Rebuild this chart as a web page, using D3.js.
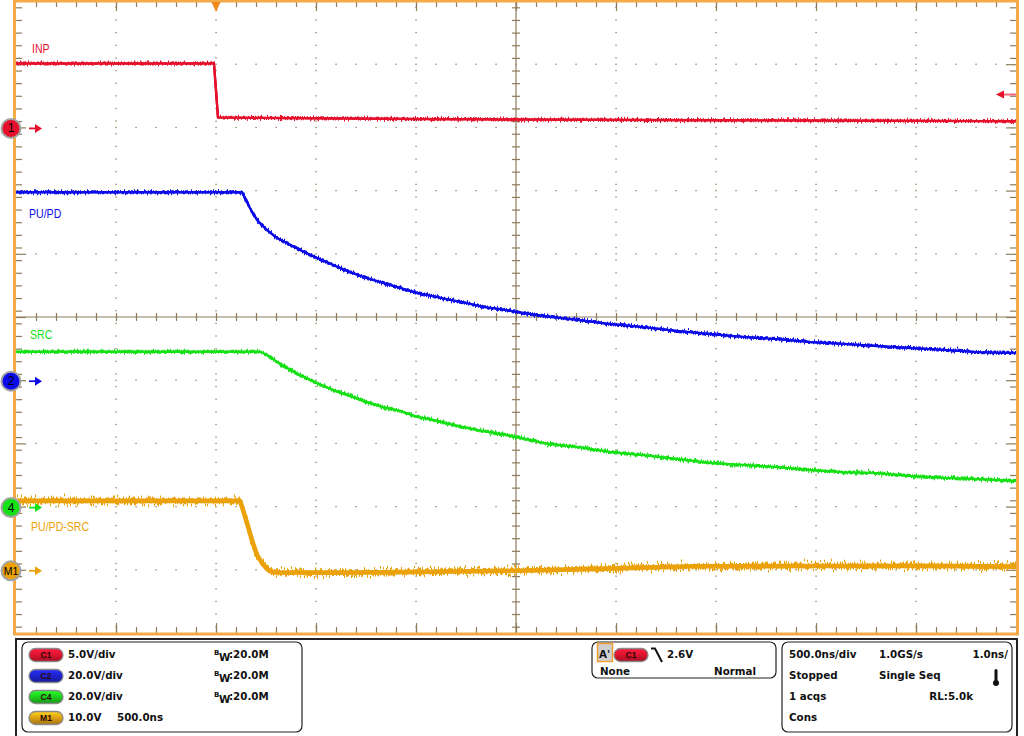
<!DOCTYPE html>
<html>
<head>
<meta charset="utf-8">
<script src="https://cdn.jsdelivr.net/npm/d3@7/dist/d3.min.js"></script>
<style>
  html, body { margin: 0; padding: 0; background: #fff; }
  svg { display: block; }
</style>
</head>
<body>
<div id="scope"></div>
<script>
// ── Timebase: 10 div × 500 ns, trigger 2 div from the left ──
const TIME_DOMAIN_NS = [-1000, 4000];
const DIV_DOMAIN = [-5, 5];

// ── Channels ──
const channelIds = ['1', '2', '4', 'M1'];
const channelNames = ['INP', 'PU/PD', 'SRC', 'PU/PD-SRC'];
const voltsPerDiv = [5, 20, 20, 10];
const groundDiv = [3, -1, -3, -4];

// ── Traces: [t (ns), V] ──
const inpTrace = [
  [-1000, 5.05], [-600, 5.05], [-200, 5.06], [-10, 5.05], [-4, 3.8], [10, 0.78],
  [300, 0.74], [1000, 0.66], [1500, 0.62], [2500, 0.57], [3500, 0.52], [4000, 0.49]
];
const puPdTrace = [
  [-1000, 59.5], [130, 59.5], [145, 57.7], [170, 54.5], [205, 50.7], [255, 47.5],
  [305, 45.0], [355, 43.4], [420, 41.2], [505, 38.7], [585, 36.5], [670, 34.2],
  [755, 32.3], [835, 30.8], [920, 29.2], [1005, 27.6], [1085, 26.6], [1170, 25.4],
  [1255, 24.4], [1335, 23.2], [1420, 22.5], [1505, 21.6], [1635, 20.3], [1805, 19.1],
  [1970, 17.8], [2135, 16.8], [2305, 15.6], [2470, 14.6], [2635, 13.7], [2805, 13.0],
  [2970, 12.1], [3135, 11.5], [3305, 10.8], [3470, 10.2], [3635, 9.6], [3805, 8.9],
  [4000, 8.6]
];
const srcTrace = [
  [-1000, 49.0], [220, 49.0], [255, 48.0], [305, 45.8], [355, 43.9], [420, 41.6],
  [505, 39.1], [585, 36.9], [670, 35.0], [755, 33.1], [835, 31.5], [920, 30.3],
  [1005, 28.4], [1085, 27.4], [1170, 26.1], [1255, 24.9], [1335, 23.9], [1420, 23.0],
  [1505, 22.0], [1635, 20.1], [1805, 18.9], [1970, 17.3], [2135, 16.3], [2305, 15.1],
  [2470, 13.8], [2635, 13.2], [2805, 12.5], [2970, 11.6], [3135, 10.9], [3305, 10.6],
  [3470, 9.7], [3635, 9.1], [3805, 8.7], [4000, 8.1]
];
const mathTrace = [
  [-1000, 10.9], [120, 10.9], [135, 9.5], [155, 7.4], [180, 4.7], [205, 2.3],
  [230, 1.1], [255, 0.1], [285, -0.4], [600, -0.45], [1000, -0.35], [1500, -0.15],
  [1900, 0.15], [2400, 0.55], [3000, 0.6], [3500, 0.62], [4000, 0.5]
];
const traces = [inpTrace, puPdTrace, srcTrace, mathTrace];

// ── Trigger ──
const triggerLevelV = 2.6;   // on C1

// ── Readout texts ──
const vertBadges = ['C1', 'C2', 'C4', 'M1'];
const vertScaleText = ['5.0V/div', '20.0V/div', '20.0V/div', '10.0V'];
const bwText = ['20.0M', '20.0M', '20.0M', null];
const mathPosText = '500.0ns';
const triggerTexts = ["A'", 'C1', '2.6V', 'None', 'Normal'];
const acqCol1 = ['500.0ns/div', 'Stopped', '1 acqs', 'Cons'];
const acqCol2 = ['1.0GS/s', 'Single Seq', '', ''];
const acqCol3 = ['1.0ns/', '', 'RL:5.0k', ''];

(function () {
  'use strict';

  // ── Palette ──
  const COLORS = {
    ch: ['#e5102c', '#0c0ce8', '#16e016', '#eba20a'],
    badge: ['#d8142e', '#1c22c4', '#1ec81e', '#d89a14'],
    grid: '#8c7c5c',
    frame: '#f5aa48',
    trigger: '#f08a1a',
    ink: '#111'
  };
  const W = 1024, H = 736;
  const plot = { left: 16, right: 1016, top: 1, bottom: 633 };
  const READ_FONT = "'DejaVu Sans', Verdana, sans-serif";
  const LABEL_FONT = "'Liberation Sans', Arial, sans-serif";

  const svg = d3.select('#scope').append('svg')
    .attr('width', W).attr('height', H)
    .attr('viewBox', `0 0 ${W} ${H}`);
  const defs = svg.append('defs');

  // ── Scales ──
  const x = d3.scaleLinear().domain(TIME_DOMAIN_NS).range([plot.left, plot.right]);
  const yDiv = d3.scaleLinear().domain(DIV_DOMAIN).range([plot.bottom, plot.top]);
  const yChan = i => v => yDiv(groundDiv[i] + v / voltsPerDiv[i]);

  const divMinor = d3.range(-49, 50).map(k => k / 10).filter((d, i) => i % 2 === 0 && Math.abs(d) < 5);
  const divMajor = d3.range(-4, 5);
  const tMinor = d3.range(-900, 4000, 100);
  const tMajor = d3.range(-500, 4000, 500);

  // ── Grid dots ──
  const grid = svg.append('g');
  const dots = [];
  tMajor.filter(t => t !== 1500).forEach(t => divMinor.forEach(d => dots.push([t, d])));
  divMajor.filter(d => d !== 0).forEach(d => tMinor.forEach(t => dots.push([t, d])));
  grid.selectAll('rect.dot').data(dots).enter().append('rect')
    .attr('class', 'dot')
    .attr('x', d => x(d[0]) - 0.6).attr('y', d => yDiv(d[1]) - 0.6)
    .attr('width', 1.3).attr('height', 1.3)
    .attr('fill', COLORS.grid);

  // ── Centre cross ──
  grid.append('line')
    .attr('x1', x(1500)).attr('x2', x(1500)).attr('y1', plot.top).attr('y2', plot.bottom)
    .attr('stroke', COLORS.grid).attr('stroke-width', 1.2);
  grid.append('line')
    .attr('x1', plot.left).attr('x2', plot.right).attr('y1', yDiv(0)).attr('y2', yDiv(0))
    .attr('stroke', COLORS.grid).attr('stroke-width', 1.2);

  function tickAxis(axis, tx, ty) {
    grid.append('g')
      .attr('transform', `translate(${tx},${ty})`)
      .call(axis.tickFormat('').tickSizeOuter(0))
      .call(g => g.select('.domain').remove())
      .call(g => g.selectAll('text').remove())
      .call(g => g.selectAll('line').attr('stroke', COLORS.grid).attr('stroke-width', 1.2));
  }

  // ticks crossing the centre lines
  tickAxis(d3.axisLeft(yDiv).tickValues(divMinor).tickSize(8), x(1500) + 4, 0);
  tickAxis(d3.axisTop(x).tickValues(tMinor).tickSize(8), 0, yDiv(0) + 4);

  // ticks on the frame edges
  tickAxis(d3.axisRight(yDiv).tickValues(divMinor).tickSize(6), plot.left, 0);
  tickAxis(d3.axisRight(yDiv).tickValues(divMajor).tickSize(10), plot.left, 0);
  tickAxis(d3.axisLeft(yDiv).tickValues(divMinor).tickSize(6), plot.right, 0);
  tickAxis(d3.axisLeft(yDiv).tickValues(divMajor).tickSize(10), plot.right, 0);
  tickAxis(d3.axisBottom(x).tickValues(tMinor).tickSize(6), 0, plot.top);
  tickAxis(d3.axisBottom(x).tickValues(tMajor).tickSize(10), 0, plot.top);
  tickAxis(d3.axisTop(x).tickValues(tMinor).tickSize(6), 0, plot.bottom);
  tickAxis(d3.axisTop(x).tickValues(tMajor).tickSize(10), 0, plot.bottom);

  // ── Noise texture filters (rendering only) ──
  function noiseFilter(id, amp, seed) {
    const f = defs.append('filter').attr('id', id)
      .attr('filterUnits', 'userSpaceOnUse')
      .attr('x', 0).attr('y', 0).attr('width', W).attr('height', H)
      .attr('color-interpolation-filters', 'sRGB');
    f.append('feTurbulence').attr('type', 'fractalNoise')
      .attr('baseFrequency', '0.7 0.0004').attr('numOctaves', 2)
      .attr('seed', seed).attr('result', 'n');
    f.append('feColorMatrix').attr('in', 'n').attr('type', 'matrix')
      .attr('values', '0 0 0 0 0.5  0 1 0 0 0  0 0 0 0 0  0 0 0 0 1')
      .attr('result', 'm');
    f.append('feDisplacementMap').attr('in', 'SourceGraphic').attr('in2', 'm')
      .attr('scale', amp).attr('xChannelSelector', 'R').attr('yChannelSelector', 'G');
  }
  const noiseAmp = [8, 8, 8, 18];
  noiseAmp.forEach((a, i) => {
    noiseFilter(`nz${i}a`, a, 3 + i * 7);
    noiseFilter(`nz${i}b`, a, 5 + i * 11);
  });

  // ── Traces ──
  const traceLayer = svg.append('g');
  traces.forEach((data, i) => {
    const line = d3.line().x(d => x(d[0])).y(d => yChan(i)(d[1]));
    const base = i === 3 ? 4.6 : 2.4;
    traceLayer.append('path').datum(data)
      .attr('d', line).attr('fill', 'none')
      .attr('stroke', COLORS.ch[i]).attr('stroke-width', base)
      .attr('stroke-linejoin', 'round');
    ['a', 'b'].forEach(s => {
      traceLayer.append('path').datum(data)
        .attr('d', line).attr('fill', 'none')
        .attr('stroke', COLORS.ch[i]).attr('stroke-width', i === 3 ? 2.6 : 2)
        .attr('filter', `url(#nz${i}${s})`);
    });
  });

  // ── Trace labels ──
  const labelPos = [[32, 53], [29, 218], [30, 339], [31, 531]];
  channelNames.forEach((n, i) => {
    svg.append('text')
      .attr('transform', `translate(${labelPos[i][0]},${labelPos[i][1]}) scale(0.88,1)`)
      .attr('font-family', LABEL_FONT).attr('font-size', 12)
      .attr('fill', COLORS.ch[i])
      .text(n);
  });

  // ── Frame ──
  svg.append('rect')
    .attr('x', 14.5).attr('y', 1).attr('width', 1003).attr('height', 633)
    .attr('fill', 'none').attr('stroke', COLORS.frame).attr('stroke-width', 3);

  // ── Trigger position / level ──
  svg.append('path')
    .attr('d', `M${x(0) - 4.5},2 L${x(0) + 4.5},2 L${x(0)},12 Z`)
    .attr('fill', COLORS.trigger);
  const yTrig = yChan(0)(triggerLevelV);
  svg.append('line')
    .attr('x1', 1002).attr('x2', 1016).attr('y1', yTrig).attr('y2', yTrig)
    .attr('stroke', '#f06478').attr('stroke-width', 2);
  svg.append('path')
    .attr('d', `M996,${yTrig} L1004,${yTrig - 4} L1004,${yTrig + 4} Z`)
    .attr('fill', COLORS.ch[0]);

  // ── Channel ground markers ──
  channelIds.forEach((id, i) => {
    const g = svg.append('g').attr('transform', `translate(11,${yChan(i)(0) + 1})`);
    g.append('line').attr('x1', 18).attr('x2', 26).attr('y1', 0).attr('y2', 0)
      .attr('stroke', COLORS.ch[i]).attr('stroke-width', 1.8);
    g.append('path').attr('d', 'M24,-4.5 L31,0 L24,4.5 Z').attr('fill', COLORS.ch[i]);
    g.append('circle').attr('r', 9.5)
      .attr('fill', COLORS.ch[i]).attr('stroke', '#a4a4a4').attr('stroke-width', 2);
    g.append('text').attr('text-anchor', 'middle').attr('y', 4)
      .attr('font-family', LABEL_FONT).attr('font-size', id.length > 1 ? 10.5 : 12)
      .attr('fill', '#000').text(id);
  });

  // ── Readout panel ──
  const panel = svg.append('g');
  panel.append('rect')
    .attr('x', 16).attr('y', 639).attr('width', 1001).attr('height', 110)
    .attr('fill', '#fff').attr('stroke', '#222').attr('stroke-width', 2);
  [[22, 642, 280, 90], [592, 642, 184, 36], [782, 642, 230, 90]].forEach(b => {
    panel.append('rect')
      .attr('x', b[0]).attr('y', b[1]).attr('width', b[2]).attr('height', b[3])
      .attr('rx', 6).attr('fill', '#fff').attr('stroke', '#222').attr('stroke-width', 1.2);
  });

  vertBadges.forEach((b, i) => {
    const grad = defs.append('linearGradient').attr('id', `pill${i}`)
      .attr('x1', 0).attr('y1', 0).attr('x2', 0).attr('y2', 1);
    grad.append('stop').attr('offset', '0%').attr('stop-color', d3.color(COLORS.badge[i]).brighter(0.9));
    grad.append('stop').attr('offset', '55%').attr('stop-color', COLORS.badge[i]);
    grad.append('stop').attr('offset', '100%').attr('stop-color', d3.color(COLORS.badge[i]).darker(0.8));
  });

  function pill(i, cx, cy, label) {
    panel.append('rect')
      .attr('x', cx - 17).attr('y', cy - 6.5).attr('width', 34).attr('height', 13)
      .attr('rx', 6.5).attr('fill', `url(#pill${i})`)
      .attr('stroke', '#8a8a8a').attr('stroke-width', 1.3);
    panel.append('text').attr('x', cx).attr('y', cy + 3)
      .attr('text-anchor', 'middle')
      .attr('font-family', LABEL_FONT).attr('font-size', 8.5).attr('font-weight', 'bold')
      .attr('fill', '#2a0808').text(label);
  }

  function readText(txt, tx, ty, anchor, size) {
    panel.append('text').attr('x', tx).attr('y', ty)
      .attr('text-anchor', anchor || 'start')
      .attr('font-family', READ_FONT).attr('font-weight', 'bold')
      .attr('font-size', size || 10.3).attr('fill', COLORS.ink)
      .text(txt);
  }

  const rowY = [658, 679, 700, 721];
  vertBadges.forEach((b, i) => {
    pill(i, 46, rowY[i] - 3, b);
    readText(vertScaleText[i], 68, rowY[i]);
    if (bwText[i]) {
      readText('B', 214, rowY[i] - 3, 'start', 7);
      readText('W', 219, rowY[i] + 3, 'start', 10.3);
      readText(':' + bwText[i], 229, rowY[i]);
    }
  });
  readText(mathPosText, 117, rowY[3]);

  // trigger box
  panel.append('rect').attr('x', 597.5).attr('y', 643.5).attr('width', 15).attr('height', 18)
    .attr('fill', '#cfcfcf').attr('stroke', '#f0a030').attr('stroke-width', 1.5);
  readText(triggerTexts[0], 599, 658);
  pill(0, 631, 655, triggerTexts[1]);
  panel.append('path').attr('d', 'M651,648.5 L655,648.5 L662,662')
    .attr('fill', 'none').attr('stroke', '#111').attr('stroke-width', 2);
  readText(triggerTexts[2], 667, 658);
  readText(triggerTexts[3], 600, 675);
  readText(triggerTexts[4], 756, 675, 'end');

  // acquisition box
  const col3X = [1008, 0, 973, 0];
  rowY.forEach((yy, r) => {
    readText(acqCol1[r], 789, yy);
    if (acqCol2[r]) readText(acqCol2[r], 879, yy);
    if (acqCol3[r]) readText(acqCol3[r], col3X[r], yy, 'end');
  });
  // thermometer glyph
  panel.append('rect').attr('x', 994.5).attr('y', 669).attr('width', 3).attr('height', 13)
    .attr('rx', 1.5).attr('fill', '#111');
  panel.append('circle').attr('cx', 996).attr('cy', 683).attr('r', 3).attr('fill', '#111');
})();
</script>
</body>
</html>
